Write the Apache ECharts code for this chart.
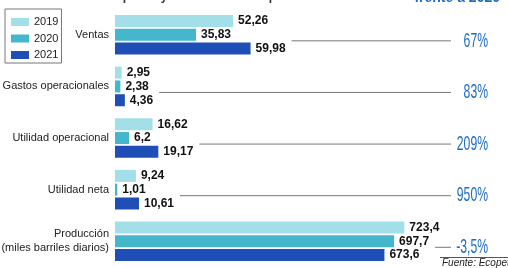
<!DOCTYPE html>
<html>
<head>
<meta charset="utf-8">
<script src="https://cdn.jsdelivr.net/npm/echarts@6/dist/echarts.min.js"></script>
<style>
  html, body { margin: 0; padding: 0; background: #fff; }
  #container { width: 508px; height: 268px; }
</style>
</head>
<body>
<div id="container"></div>
<script>
var dom = document.getElementById('container');
var myChart = echarts.init(dom);

// financial indicators (billones de pesos)
var categories = ['Ventas', 'Gastos operacionales', 'Utilidad operacional', 'Utilidad neta'];
var fin2019 = [52.26, 2.95, 16.62, 9.24];
var fin2020 = [35.83, 2.38, 6.2, 1.01];
var fin2021 = [59.98, 4.36, 19.17, 10.61];
var finChange = ['67%', '83%', '209%', '950%'];

// production (miles de barriles diarios)
var prodCategory = ['Producción\n(miles barriles diarios)'];
var prod2019 = [723.4];
var prod2020 = [697.7];
var prod2021 = [673.6];
var prodChange = ['-3,5%'];

var years = ['2019', '2020', '2021'];
var colors = ['#a3dfe8', '#45b7cd', '#1f4fb6'];

var baseFont = '"Liberation Sans", Arial, sans-serif';
var labelFont = 'bold 12px ' + baseFont;
var pctColor = '#1c6cc4';

function fmt(v) {
  return String(v).replace('.', ',');
}

var measureCtx = document.createElement('canvas').getContext('2d');
measureCtx.font = labelFont;
function textW(s) {
  return measureCtx.measureText(s).width;
}

function barSeries(name, data, color, idx) {
  return {
    type: 'bar',
    name: name,
    data: data,
    xAxisIndex: idx,
    yAxisIndex: idx,
    barWidth: 12,
    barGap: '15%',
    itemStyle: { color: color },
    label: {
      show: true,
      position: 'right',
      distance: 5,
      color: '#111',
      fontWeight: 'bold',
      fontSize: 12,
      fontFamily: baseFont,
      formatter: function (p) { return fmt(p.value); }
    }
  };
}

// leader line + change percentage for each category
function changeSeries(idx, vals2020, vals2021, changes) {
  return {
    type: 'custom',
    xAxisIndex: idx,
    yAxisIndex: idx,
    silent: true,
    clip: false,
    data: changes.map(function (c, i) { return [0, i]; }),
    encode: { x: 0, y: 1 },
    renderItem: function (params, api) {
      var i = api.value(1);
      var cy = api.coord([0, i])[1] + 6;
      var a = vals2020[i], b = vals2021[i];
      var xa = api.coord([a, i])[0] + 5 + textW(fmt(a));
      var xb = api.coord([b, i])[0] + 5 + textW(fmt(b));
      var x0 = Math.max(xa, xb) + 6;
      return {
        type: 'group',
        children: [
          {
            type: 'line',
            shape: { x1: x0, y1: cy, x2: 451, y2: cy },
            style: { stroke: '#777', lineWidth: 1 }
          },
          {
            type: 'text',
            x: 488,
            y: cy,
            scaleX: 0.58,
            style: {
              text: changes[i],
              fill: pctColor,
              font: '21px ' + baseFont,
              align: 'right',
              verticalAlign: 'middle'
            }
          }
        ]
      };
    }
  };
}

var yAxisCommon = {
  type: 'category',
  inverse: true,
  axisLine: { show: false },
  axisTick: { show: false },
  axisLabel: {
    color: '#222',
    fontSize: 11,
    fontFamily: baseFont,
    margin: 6,
    lineHeight: 14,
    align: 'right'
  }
};

var option = {
  animation: false,
  legend: {
    data: years,
    orient: 'vertical',
    left: 5,
    top: 9,
    padding: [7, 3, 2, 6],
    borderColor: '#777',
    borderWidth: 1,
    itemWidth: 18,
    itemHeight: 8,
    itemGap: 4.5,
    icon: 'rect',
    textStyle: { fontSize: 11, color: '#222', fontFamily: baseFont, lineHeight: 12 }
  },
  grid: [
    { left: 115, top: 9, width: 339, height: 206.5, outerBoundsMode: 'none', containLabel: false },
    { left: 115, top: 215.5, width: 320, height: 51.6, outerBoundsMode: 'none', containLabel: false }
  ],
  xAxis: [
    { type: 'value', gridIndex: 0, min: 0, max: 150, show: false },
    { type: 'value', gridIndex: 1, min: 0, max: 800, show: false }
  ],
  yAxis: [
    Object.assign({}, yAxisCommon, { gridIndex: 0, data: categories }),
    Object.assign({}, yAxisCommon, { gridIndex: 1, data: prodCategory })
  ],
  series: [
    barSeries('2019', fin2019, colors[0], 0),
    barSeries('2020', fin2020, colors[1], 0),
    barSeries('2021', fin2021, colors[2], 0),
    barSeries('2019', prod2019, colors[0], 1),
    barSeries('2020', prod2020, colors[1], 1),
    barSeries('2021', prod2021, colors[2], 1),
    changeSeries(0, fin2020, fin2021, finChange),
    changeSeries(1, prod2020, prod2021, prodChange)
  ],
  graphic: [
    {
      type: 'text', left: 2, top: -9,
      style: { text: 'Cifras en billones de pesos y miles de barriles por día. Cifras acumuladas.', font: 'bold 12px ' + baseFont, fill: '#333' }
    },
    {
      type: 'text', right: 8, top: -9,
      style: { text: 'frente a 2020', font: 'bold 14px ' + baseFont, fill: pctColor }
    },
    {
      type: 'line', shape: { x1: 440, y1: 257.5, x2: 508, y2: 257.5 },
      style: { stroke: '#555', lineWidth: 1 }
    },
    {
      type: 'text', left: 442, top: 258,
      style: { text: 'Fuente: Ecopetrol', font: 'italic 10px ' + baseFont, fill: '#222' }
    }
  ]
};

if (option && typeof option === 'object') {
  myChart.setOption(option);
}
</script>
</body>
</html>
